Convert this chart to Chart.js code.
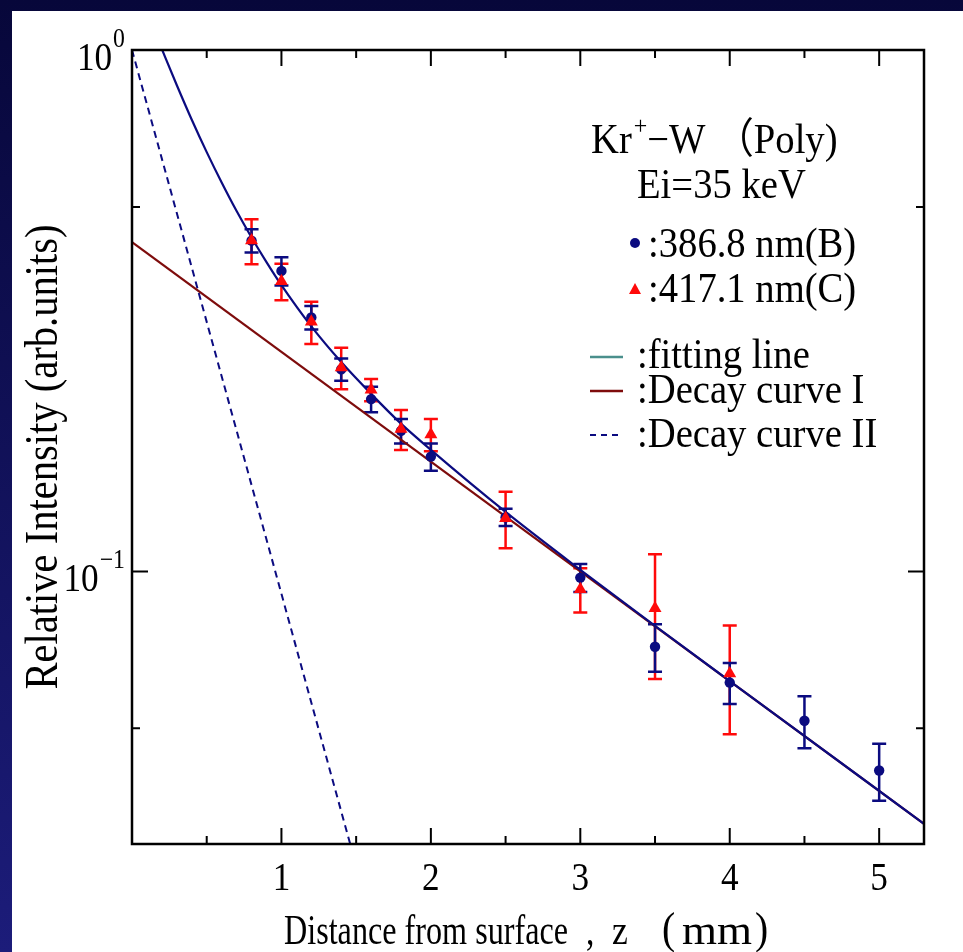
<!DOCTYPE html>
<html>
<head>
<meta charset="utf-8">
<script src="https://cdn.jsdelivr.net/npm/chart.js@4.4.1/dist/chart.umd.min.js"></script>
<style>
html,body{margin:0;padding:0;background:#0a0a44;overflow:hidden;}
#wrap{position:relative;width:963px;height:952px;}
canvas{display:block;}
</style>
</head>
<body>
<div id="wrap"><canvas id="chart" width="963" height="952"></canvas></div>
<script>
// ---------- data ----------
const depthB     = [0.8, 1.0, 1.2, 1.4, 1.6, 1.8, 2.0, 2.5, 3.0, 3.5, 4.0, 4.5, 5.0];
const intensityB = [0.431, 0.377, 0.307, 0.244, 0.214, 0.186, 0.166, 0.127, 0.0973, 0.0717, 0.0612, 0.0517, 0.0415];
const errorB     = [0.022, 0.0235, 0.016, 0.012, 0.012, 0.010, 0.010, 0.0048, 0.006, 0.0075, 0.0055, 0.0059, 0.0052];

const depthC     = [0.8, 1.0, 1.2, 1.4, 1.6, 1.8, 2.0, 2.5, 3.0, 3.5, 4.0];
const intensityC = [0.431, 0.360, 0.301, 0.246, 0.223, 0.1875, 0.183, 0.1265, 0.0924, 0.085, 0.0637];
const errorC     = [0.0427, 0.029, 0.028, 0.0225, 0.011, 0.0165, 0.013, 0.0157, 0.009, 0.0228, 0.015];

const fitX = [0.19, 0.3, 0.4, 0.5, 0.6, 0.7, 0.8, 0.9, 1.0, 1.2, 1.4, 1.6, 1.8, 2.0, 2.5, 3.0, 3.5, 4.0, 5.3];
const fitY = [1.02, 0.856, 0.735, 0.637, 0.557, 0.491, 0.437, 0.392, 0.354, 0.295, 0.252, 0.219, 0.192, 0.171, 0.130, 0.1007, 0.0786, 0.0616, 0.0328];

const decay1X = [0, 5.3];
const decay1Y = [0.428, 0.0328];
const decay2X = [0, 1.46];
const decay2Y = [1.0, 0.03];

const xMajorTicks = [1, 2, 3, 4, 5];
const xMinorTicks = [0.5, 1.5, 2.5, 3.5, 4.5];
const xTickLabels = ['1', '2', '3', '4', '5'];
const yMajorTicks = [1, 0.1];
const yMinorTicks = [0.5, 0.05];
const yTickBase = ['10', '10'];
const yTickExp  = ['0', '\u22121'];

const xTitleParts = ['Distance from surface', ',', 'z', '(', 'mm', ')'];
const yTitle = 'Relative Intensity (arb.units)';
const legendHead1 = ['Kr', '+', '\u2212W \uFF08Poly)'];
const legendHead2 = 'Ei=35 keV';
const legendB = ':386.8 nm(B)';
const legendC = ':417.1 nm(C)';
const legendFit = ':fitting line';
const legendD1 = ':Decay curve I';
const legendD2 = ':Decay curve II';

// ---------- styles ----------
const NAVY = '#0b0b80';
const RED = '#ff0a0a';
const DARKRED = '#7e0c0c';
const TEAL = '#4a8f8c';
const FONT = '"Liberation Serif", "Times New Roman", "Noto Sans CJK JP", serif';

const toPts = (xs, ys) => xs.map((x, i) => ({x: x, y: ys[i]}));

function measure(ctx, s, size) {
  ctx.save();
  ctx.font = size + 'px ' + FONT;
  const w = ctx.measureText(s).width;
  ctx.restore();
  return w;
}
function txt(ctx, s, x, y, size, align, hs) {
  ctx.save();
  ctx.font = size + 'px ' + FONT;
  ctx.textBaseline = 'alphabetic';
  ctx.textAlign = 'left';
  const w = ctx.measureText(s).width;
  ctx.translate(x, y);
  ctx.scale(hs, 1);
  let dx = 0;
  if (align === 'center') dx = -w / 2; else if (align === 'right') dx = -w;
  ctx.fillText(s, dx, 0);
  ctx.restore();
  return w * hs;
}
function fitLeft(ctx, s, x, y, size, targetW) {
  txt(ctx, s, x, y, size, 'left', targetW / measure(ctx, s, size));
}
function fitCenter(ctx, s, cx, y, size, targetW) {
  txt(ctx, s, cx, y, size, 'center', targetW / measure(ctx, s, size));
}

const deco = {
  id: 'deco',
  beforeDraw(chart) {
    const ctx = chart.ctx;
    ctx.save();
    const g = ctx.createLinearGradient(0, 0, 0, 952);
    g.addColorStop(0, '#07073a');
    g.addColorStop(1, '#1c1c7a');
    ctx.fillStyle = g;
    ctx.fillRect(0, 0, 963, 952);
    ctx.fillStyle = '#ffffff';
    ctx.fillRect(12, 11, 951, 941);
    ctx.restore();
  },
  beforeDatasetsDraw(chart) {
    const ctx = chart.ctx;
    const xs = chart.scales.x, ys = chart.scales.y;
    const bars = (d, v, e, color) => {
      ctx.strokeStyle = color;
      ctx.lineWidth = 2.5;
      for (let i = 0; i < d.length; i++) {
        const px = xs.getPixelForValue(d[i]);
        const top = ys.getPixelForValue(v[i] + e[i]);
        const bot = ys.getPixelForValue(v[i] - e[i]);
        ctx.beginPath();
        ctx.moveTo(px, top); ctx.lineTo(px, bot);
        ctx.moveTo(px - 7, top); ctx.lineTo(px + 7, top);
        ctx.moveTo(px - 7, bot); ctx.lineTo(px + 7, bot);
        ctx.stroke();
      }
    };
    ctx.save();
    bars(depthC, intensityC, errorC, RED);
    bars(depthB, intensityB, errorB, NAVY);
    ctx.restore();
  },
  afterDatasetsDraw(chart) {
    const ctx = chart.ctx;
    const a = chart.chartArea;
    const xs = chart.scales.x, ys = chart.scales.y;
    ctx.save();
    // frame
    ctx.strokeStyle = '#000';
    ctx.lineWidth = 2.5;
    ctx.strokeRect(a.left, a.top, a.right - a.left, a.bottom - a.top);
    // ticks (inward, all four sides)
    ctx.lineWidth = 2;
    ctx.beginPath();
    const xt = (v, len) => {
      const p = xs.getPixelForValue(v);
      ctx.moveTo(p, a.bottom); ctx.lineTo(p, a.bottom - len);
      ctx.moveTo(p, a.top); ctx.lineTo(p, a.top + len);
    };
    const yt = (v, len) => {
      const p = ys.getPixelForValue(v);
      ctx.moveTo(a.left, p); ctx.lineTo(a.left + len, p);
      ctx.moveTo(a.right, p); ctx.lineTo(a.right - len, p);
    };
    xMajorTicks.forEach(v => xt(v, 16));
    xMinorTicks.forEach(v => xt(v, 8));
    yMajorTicks.forEach(v => yt(v, 16));
    yMinorTicks.forEach(v => yt(v, 8));
    ctx.stroke();

    ctx.fillStyle = '#000';
    // x tick labels
    xMajorTicks.forEach((v, i) => {
      txt(ctx, xTickLabels[i], xs.getPixelForValue(v), a.bottom + 46, 40, 'center', 0.88);
    });
    // y tick labels with superscripts
    yMajorTicks.forEach((v, i) => {
      const p = ys.getPixelForValue(v);
      const right = a.left - 7;
      const ew = measure(ctx, yTickExp[i], 27) * 0.88;
      txt(ctx, yTickExp[i], right - ew, p - 3, 27, 'left', 0.88);
      txt(ctx, yTickBase[i], right - ew - 1, p + 20, 40, 'right', 0.88);
    });
    // x axis title (condensed serif, pieces placed as in the original)
    const XB = 944;
    fitLeft(ctx, xTitleParts[0], 284, XB, 42, 284);
    txt(ctx, xTitleParts[1], 586, XB, 42, 'left', 0.8);
    txt(ctx, xTitleParts[2], 612, XB, 42, 'left', 0.85);
    txt(ctx, xTitleParts[3], 662, XB - 1, 44, 'left', 0.9);
    fitLeft(ctx, xTitleParts[4], 682, XB, 42, 70);
    txt(ctx, xTitleParts[5], 755, XB - 1, 44, 'left', 0.9);
    // y axis title
    ctx.save();
    ctx.translate(57, 457);
    ctx.rotate(-Math.PI / 2);
    fitCenter(ctx, yTitle, 0, 0, 46, 465);
    ctx.restore();

    // legend block
    const LF = 42, LH = 0.92;
    let x = 591;
    x += txt(ctx, legendHead1[0], x, 153, LF, 'left', LH);
    const pw = txt(ctx, legendHead1[1], x + 2, 134, 26, 'left', LH);
    txt(ctx, legendHead1[2], x + pw + 2, 153, LF, 'left', LH);
    txt(ctx, legendHead2, 637, 198, LF, 'left', LH);

    ctx.fillStyle = NAVY;
    ctx.beginPath(); ctx.arc(635, 243, 5, 0, Math.PI * 2); ctx.fill();
    ctx.fillStyle = '#000';
    txt(ctx, legendB, 648, 257, LF, 'left', LH);

    ctx.fillStyle = RED;
    ctx.beginPath();
    ctx.moveTo(635, 283); ctx.lineTo(641, 294); ctx.lineTo(629, 294); ctx.closePath(); ctx.fill();
    ctx.fillStyle = '#000';
    txt(ctx, legendC, 648, 302, LF, 'left', LH);

    ctx.lineWidth = 2.5;
    ctx.strokeStyle = TEAL;
    ctx.beginPath(); ctx.moveTo(590, 357); ctx.lineTo(623, 357); ctx.stroke();
    txt(ctx, legendFit, 637, 368, LF, 'left', LH);

    ctx.strokeStyle = DARKRED;
    ctx.beginPath(); ctx.moveTo(590, 391); ctx.lineTo(623, 391); ctx.stroke();
    txt(ctx, legendD1, 637, 403, LF, 'left', LH);

    ctx.strokeStyle = NAVY;
    ctx.lineWidth = 2;
    ctx.setLineDash([6, 5]);
    ctx.beginPath(); ctx.moveTo(590, 435); ctx.lineTo(618, 435); ctx.stroke();
    ctx.setLineDash([]);
    txt(ctx, legendD2, 637, 447, LF, 'left', LH);
    ctx.restore();
  }
};

new Chart(document.getElementById('chart'), {
  type: 'scatter',
  data: {
    datasets: [
      { label: '386.8 nm(B)', data: toPts(depthB, intensityB), pointStyle: 'circle', pointRadius: 5.2,
        backgroundColor: NAVY, borderColor: NAVY, borderWidth: 0, showLine: false, order: 1 },
      { label: '417.1 nm(C)', data: toPts(depthC, intensityC), pointStyle: 'triangle', pointRadius: 7.5,
        backgroundColor: RED, borderColor: RED, borderWidth: 0, showLine: false, order: 0 },
      { label: 'fitting line', data: toPts(fitX, fitY), showLine: true, pointRadius: 0, borderColor: NAVY,
        borderWidth: 2.2, cubicInterpolationMode: 'monotone', clip: 0, order: 2 },
      { label: 'Decay curve I', data: toPts(decay1X, decay1Y), showLine: true, pointRadius: 0, borderColor: DARKRED,
        borderWidth: 2.2, clip: 0, order: 3 },
      { label: 'Decay curve II', data: toPts(decay2X, decay2Y), showLine: true, pointRadius: 0, borderColor: NAVY,
        borderWidth: 2, borderDash: [7, 5], clip: 0, order: 4 }
    ]
  },
  options: {
    responsive: false,
    animation: false,
    layout: { padding: { left: 132, top: 50, right: 39, bottom: 108 } },
    plugins: { legend: { display: false }, tooltip: { enabled: false } },
    scales: {
      x: { type: 'linear', min: 0, max: 5.3, display: false },
      y: { type: 'logarithmic', min: 0.03, max: 1, display: false }
    }
  },
  plugins: [deco]
});
</script>
</body>
</html>
